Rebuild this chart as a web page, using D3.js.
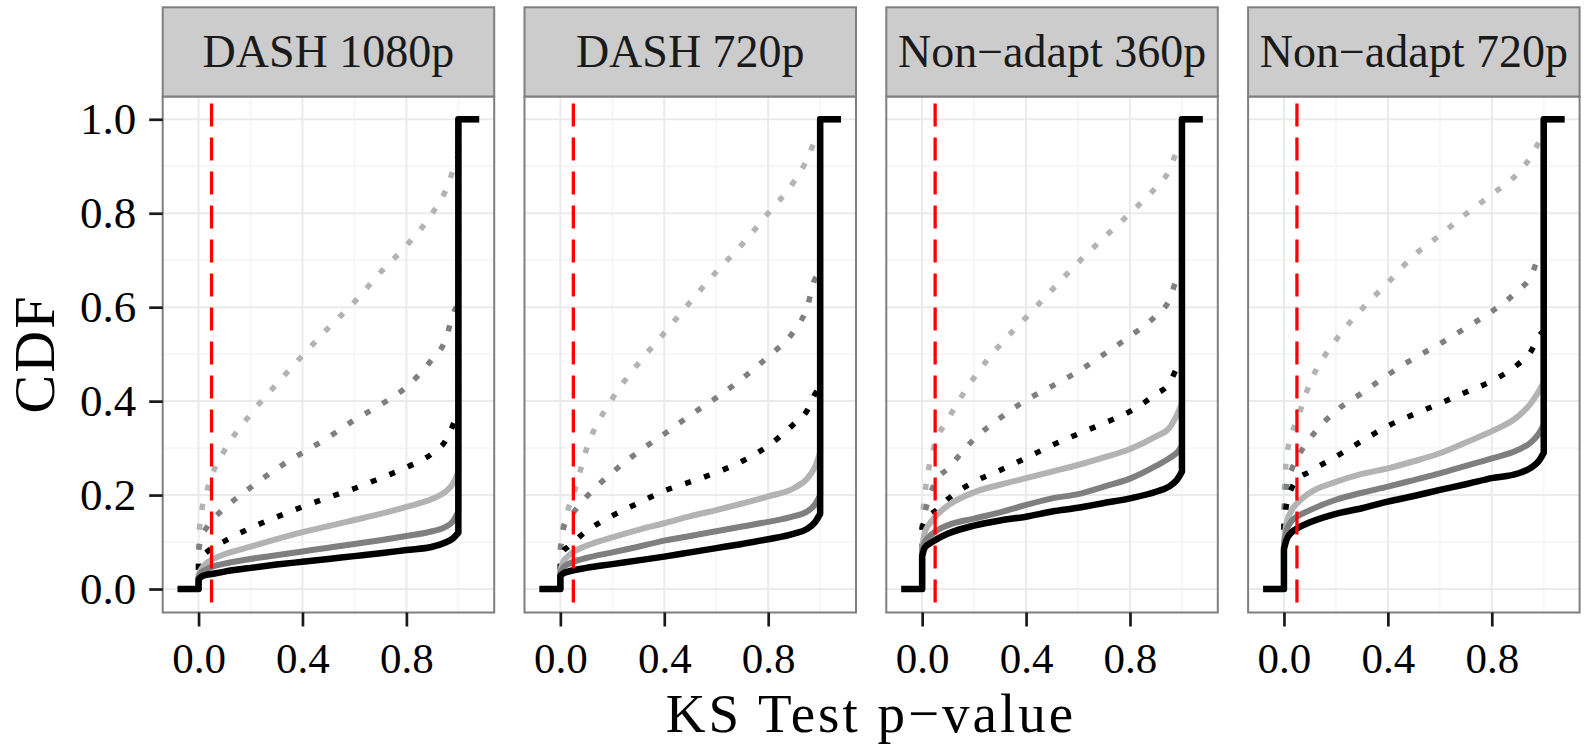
<!DOCTYPE html>
<html>
<head>
<meta charset="utf-8">
<script src="https://cdn.jsdelivr.net/npm/d3@7"></script>
<style>
  html, body { margin: 0; padding: 0; background: #ffffff; }
  svg { display: block; }
  text { font-family: "Liberation Serif", "DejaVu Serif", serif; }
</style>
</head>
<body>
<script>
// ---------------- DATA ----------------
const panelTitles = ["DASH 1080p", "DASH 720p", "Non\u2212adapt 360p", "Non\u2212adapt 720p"];
const xTicks = [0, 0.4, 0.8];
const yTicks = [0, 0.2, 0.4, 0.6, 0.8, 1.0];
const xMinor = [0.2, 0.6, 1.0];
const yMinor = [0.1, 0.3, 0.5, 0.7, 0.9];
const threshold = 0.05;               // red dashed line
const ecdfPad = [-0.08, 1.08];        // ecdf padding ends
const pValues = [0, 0.01, 0.03, 0.05, 0.1, 0.2, 0.3, 0.4, 0.5, 0.6, 0.7, 0.8, 0.9, 0.95, 0.98, 1.0];
const seriesKeys = ["dottedLight", "dottedMid", "dottedBlack", "solidLight", "solidMid", "solidBlack"];

// DASH 1080p
const dash1080_dottedLight = [0.11, 0.16, 0.205, 0.24, 0.295, 0.372, 0.436, 0.497, 0.556, 0.611, 0.674, 0.731, 0.80, 0.847, 0.892, 0.925];
const dash1080_dottedMid   = [0.08, 0.11, 0.13, 0.145, 0.172, 0.216, 0.256, 0.29, 0.323, 0.36, 0.392, 0.43, 0.49, 0.53, 0.585, 0.61];
const dash1080_dottedBlack = [0.06, 0.068, 0.078, 0.087, 0.102, 0.13, 0.153, 0.175, 0.195, 0.214, 0.236, 0.259, 0.289, 0.315, 0.35, 0.38];
const dash1080_solidLight  = [0.03, 0.042, 0.055, 0.062, 0.074, 0.09, 0.106, 0.121, 0.134, 0.147, 0.16, 0.175, 0.192, 0.207, 0.225, 0.25];
const dash1080_solidMid    = [0.025, 0.035, 0.042, 0.047, 0.054, 0.064, 0.072, 0.08, 0.088, 0.096, 0.104, 0.113, 0.123, 0.132, 0.145, 0.165];
const dash1080_solidBlack  = [0.02, 0.026, 0.03, 0.032, 0.037, 0.045, 0.052, 0.058, 0.064, 0.07, 0.076, 0.083, 0.09, 0.099, 0.108, 0.12];

// DASH 720p
const dash720_dottedLight = [0.09, 0.13, 0.17, 0.2, 0.297, 0.405, 0.48, 0.545, 0.611, 0.675, 0.734, 0.80, 0.868, 0.915, 0.955, 0.975];
const dash720_dottedMid   = [0.08, 0.125, 0.15, 0.163, 0.196, 0.248, 0.292, 0.33, 0.37, 0.407, 0.448, 0.495, 0.55, 0.6, 0.66, 0.67];
const dash720_dottedBlack = [0.07, 0.08, 0.09, 0.1, 0.123, 0.156, 0.183, 0.209, 0.228, 0.248, 0.272, 0.305, 0.352, 0.38, 0.415, 0.43];
const dash720_solidLight  = [0.04, 0.057, 0.07, 0.079, 0.092, 0.11, 0.126, 0.14, 0.155, 0.168, 0.182, 0.197, 0.215, 0.235, 0.26, 0.29];
const dash720_solidMid    = [0.035, 0.045, 0.053, 0.058, 0.066, 0.078, 0.09, 0.103, 0.113, 0.123, 0.133, 0.143, 0.155, 0.165, 0.18, 0.2];
const dash720_solidBlack  = [0.028, 0.033, 0.037, 0.04, 0.045, 0.053, 0.061, 0.069, 0.078, 0.087, 0.096, 0.106, 0.118, 0.128, 0.142, 0.16];

// Non-adapt 360p
const na360_dottedLight = [0.15, 0.2, 0.27, 0.31, 0.362, 0.45, 0.52, 0.578, 0.637, 0.695, 0.748, 0.80, 0.855, 0.89, 0.93, 0.94];
const na360_dottedMid   = [0.13, 0.16, 0.2, 0.227, 0.257, 0.319, 0.364, 0.402, 0.432, 0.463, 0.50, 0.538, 0.582, 0.614, 0.658, 0.67];
const na360_dottedBlack = [0.13, 0.145, 0.158, 0.166, 0.192, 0.228, 0.253, 0.279, 0.306, 0.33, 0.353, 0.378, 0.415, 0.437, 0.47, 0.49];
const na360_solidLight  = [0.09, 0.12, 0.14, 0.154, 0.178, 0.206, 0.222, 0.236, 0.25, 0.264, 0.28, 0.298, 0.325, 0.342, 0.37, 0.395];
const na360_solidMid    = [0.08, 0.1, 0.113, 0.122, 0.136, 0.15, 0.163, 0.179, 0.193, 0.202, 0.218, 0.235, 0.262, 0.278, 0.29, 0.305];
const na360_solidBlack  = [0.07, 0.088, 0.097, 0.104, 0.118, 0.135, 0.146, 0.154, 0.165, 0.173, 0.183, 0.193, 0.207, 0.218, 0.232, 0.25];

// Non-adapt 720p
const na720_dottedLight = [0.2, 0.28, 0.33, 0.36, 0.438, 0.53, 0.596, 0.652, 0.71, 0.753, 0.798, 0.84, 0.885, 0.92, 0.95, 0.97];
const na720_dottedMid   = [0.16, 0.22, 0.255, 0.278, 0.32, 0.379, 0.417, 0.456, 0.491, 0.522, 0.556, 0.591, 0.635, 0.665, 0.705, 0.72];
const na720_dottedBlack = [0.14, 0.18, 0.215, 0.232, 0.25, 0.282, 0.315, 0.347, 0.372, 0.395, 0.419, 0.443, 0.478, 0.505, 0.537, 0.55];
const na720_solidLight  = [0.1, 0.14, 0.168, 0.182, 0.205, 0.228, 0.245, 0.257, 0.272, 0.289, 0.312, 0.336, 0.367, 0.395, 0.42, 0.44];
const na720_solidMid    = [0.09, 0.125, 0.145, 0.154, 0.168, 0.19, 0.205, 0.218, 0.232, 0.246, 0.262, 0.278, 0.296, 0.312, 0.33, 0.35];
const na720_solidBlack  = [0.085, 0.105, 0.121, 0.129, 0.142, 0.16, 0.172, 0.186, 0.198, 0.211, 0.223, 0.236, 0.246, 0.258, 0.272, 0.29];

const panelData = [
  { dottedLight: dash1080_dottedLight, dottedMid: dash1080_dottedMid, dottedBlack: dash1080_dottedBlack,
    solidLight: dash1080_solidLight, solidMid: dash1080_solidMid, solidBlack: dash1080_solidBlack },
  { dottedLight: dash720_dottedLight, dottedMid: dash720_dottedMid, dottedBlack: dash720_dottedBlack,
    solidLight: dash720_solidLight, solidMid: dash720_solidMid, solidBlack: dash720_solidBlack },
  { dottedLight: na360_dottedLight, dottedMid: na360_dottedMid, dottedBlack: na360_dottedBlack,
    solidLight: na360_solidLight, solidMid: na360_solidMid, solidBlack: na360_solidBlack },
  { dottedLight: na720_dottedLight, dottedMid: na720_dottedMid, dottedBlack: na720_dottedBlack,
    solidLight: na720_solidLight, solidMid: na720_solidMid, solidBlack: na720_solidBlack }
];

// ---------------- STYLE ----------------
const seriesStyle = {
  dottedLight: { color: "#B3B3B3", dash: "6,14", width: 5.5 },
  dottedMid:   { color: "#7F7F7F", dash: "6,14", width: 5.5 },
  dottedBlack: { color: "#000000", dash: "6,14", width: 5.5 },
  solidLight:  { color: "#B3B3B3", dash: null, width: 6 },
  solidMid:    { color: "#7F7F7F", dash: null, width: 6 },
  solidBlack:  { color: "#000000", dash: null, width: 6.5 }
};

const W = 1586, H = 744;
const panelLeft0 = 162.7, panelStep = 361.8, panelW = 331.5;
const panelTop = 96.5, panelBottom = 612.5;
const stripTop = 7.3;
const tickFont = 43;

const svg = d3.select("body").append("svg").attr("width", W).attr("height", H);

const y = d3.scaleLinear().domain([-0.05, 1.05]).range([panelBottom, 95.8]);

const lineLin = d3.line().x(d => d[0]).y(d => d[1]);
const lineCurve = d3.line().x(d => d[0]).y(d => d[1]).curve(d3.curveMonotoneX);

panelTitles.forEach((title, i) => {
  const left = panelLeft0 + i * panelStep;
  const right = left + panelW;
  const x = d3.scaleLinear().domain([-0.138, 1.138]).range([left, right]);
  const g = svg.append("g");

  g.append("rect").attr("x", left).attr("y", panelTop).attr("width", panelW)
    .attr("height", panelBottom - panelTop).attr("fill", "#ffffff");

  // minor grid
  g.selectAll(".xminor").data(xMinor).enter().append("line")
    .attr("x1", d => x(d)).attr("x2", d => x(d)).attr("y1", panelTop).attr("y2", panelBottom)
    .attr("stroke", "#F6F6F6").attr("stroke-width", 1.8);
  g.selectAll(".yminor").data(yMinor).enter().append("line")
    .attr("x1", left).attr("x2", right).attr("y1", d => y(d)).attr("y2", d => y(d))
    .attr("stroke", "#F6F6F6").attr("stroke-width", 1.8);
  // major grid
  g.selectAll(".xmajor").data(xTicks).enter().append("line")
    .attr("x1", d => x(d)).attr("x2", d => x(d)).attr("y1", panelTop).attr("y2", panelBottom)
    .attr("stroke", "#EBEBEB").attr("stroke-width", 2);
  g.selectAll(".ymajor").data(yTicks).enter().append("line")
    .attr("x1", left).attr("x2", right).attr("y1", d => y(d)).attr("y2", d => y(d))
    .attr("stroke", "#EBEBEB").attr("stroke-width", 2);

  const clipId = "clip" + i;
  svg.append("clipPath").attr("id", clipId).append("rect")
    .attr("x", left).attr("y", panelTop).attr("width", panelW).attr("height", panelBottom - panelTop);
  const plot = g.append("g").attr("clip-path", `url(#${clipId})`);

  const pd = panelData[i];
  seriesKeys.forEach(key => {
    const vals = pd[key];
    const st = seriesStyle[key];
    const startPts = [[x(ecdfPad[0]), y(0)], [x(0), y(0)], [x(pValues[0]), y(vals[0])]];
    const midPts = pValues.map((p, j) => [x(p), y(vals[j])]);
    const endPts = [[x(1), y(vals[vals.length - 1])], [x(1), y(1)], [x(ecdfPad[1]), y(1)]];
    const d = lineLin(startPts) + lineCurve(midPts).replace(/^M/, "L") + lineLin(endPts).replace(/^M/, "L");
    const path = plot.append("path").attr("d", d).attr("fill", "none")
      .attr("stroke", st.color).attr("stroke-width", st.width)
      .attr("stroke-linejoin", "round").attr("stroke-linecap", "butt");
    if (st.dash) path.attr("stroke-dasharray", st.dash);
  });

  plot.append("line").attr("x1", x(threshold)).attr("x2", x(threshold))
    .attr("y1", panelTop).attr("y2", panelBottom)
    .attr("stroke", "#FF0000").attr("stroke-width", 3.3)
    .attr("stroke-dasharray", "23,11").attr("stroke-dashoffset", 27);

  g.append("rect").attr("x", left).attr("y", panelTop).attr("width", panelW)
    .attr("height", panelBottom - panelTop).attr("fill", "none")
    .attr("stroke", "#7F7F7F").attr("stroke-width", 2);

  // strip
  g.append("rect").attr("x", left).attr("y", stripTop).attr("width", panelW)
    .attr("height", panelTop - stripTop).attr("fill", "#CCCCCC")
    .attr("stroke", "#7F7F7F").attr("stroke-width", 2);
  g.append("text").attr("x", (left + right) / 2).attr("y", 67)
    .attr("text-anchor", "middle").attr("font-size", 46).attr("fill", "#1A1A1A")
    .text(title);

  // x axis
  const xAxis = d3.axisBottom(x).tickValues(xTicks).tickFormat(d3.format(".1f"))
    .tickSizeInner(14).tickSizeOuter(0).tickPadding(16);
  const xa = svg.append("g").attr("transform", `translate(0,${panelBottom})`).call(xAxis);
  xa.select(".domain").remove();
  xa.selectAll(".tick line").attr("stroke", "#1A1A1A").attr("stroke-width", 2.7);
  xa.selectAll(".tick text").attr("font-size", tickFont).attr("fill", "#000")
    .attr("font-family", "Liberation Serif, serif");

  if (i === 0) {
    const yAxis = d3.axisLeft(y).tickValues(yTicks).tickFormat(d3.format(".1f"))
      .tickSizeInner(13.5).tickSizeOuter(0).tickPadding(13);
    const ya = svg.append("g").attr("transform", `translate(${left},0)`).call(yAxis);
    ya.select(".domain").remove();
    ya.selectAll(".tick line").attr("stroke", "#1A1A1A").attr("stroke-width", 2.7);
    ya.selectAll(".tick text").attr("font-size", 45).attr("fill", "#000")
      .attr("font-family", "Liberation Serif, serif");
  }
});

// axis titles
svg.append("text").attr("x", 871).attr("y", 731.5).attr("text-anchor", "middle")
  .attr("font-size", 55).attr("letter-spacing", 3).attr("fill", "#000")
  .text("KS Test p\u2212value");
svg.append("text").attr("transform", "translate(54,354) rotate(-90)")
  .attr("text-anchor", "middle").attr("font-size", 58).attr("letter-spacing", 2).attr("fill", "#000")
  .text("CDF");
</script>
</body>
</html>
